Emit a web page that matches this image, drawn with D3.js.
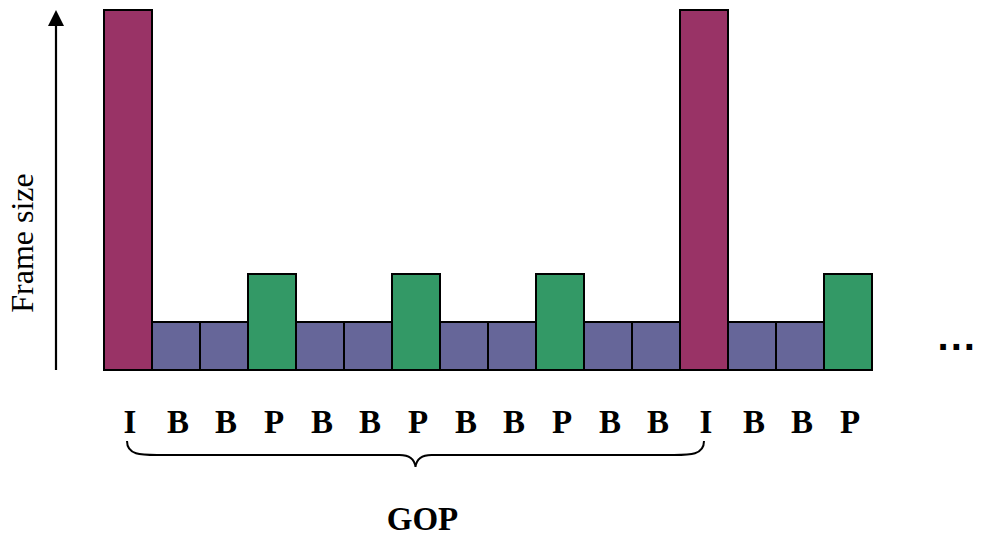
<!DOCTYPE html>
<html>
<head>
<meta charset="utf-8">
<script src="https://cdn.jsdelivr.net/npm/d3@7"></script>
<style>
html,body{margin:0;padding:0;background:#fff;}
svg{display:block;}
</style>
</head>
<body>
<svg id="chart" width="981" height="538"></svg>
<script>
const frameTypes = ["I","B","B","P","B","B","P","B","B","P","B","B","I","B","B","P"];
const frameSizes = [7.5,1,1,2,1,1,2,1,1,2,1,1,7.5,1,1,2];
const typeColors = {I:"#993366", B:"#666699", P:"#339966"};
const yLabel = "Frame size";
const gopLabel = "GOP";
const gopStart = 0, gopEnd = 12;

(function(){
const svg = d3.select("#chart");
const x = d3.scaleBand().domain(d3.range(frameTypes.length)).range([104, 872]).padding(0);
const y = d3.scaleLinear().domain([0, d3.max(frameSizes)]).range([370, 10]);

svg.append("line").attr("x1",56).attr("x2",56).attr("y1",370).attr("y2",24)
  .attr("stroke","#000").attr("stroke-width",2.2);
svg.append("path").attr("d","M56,10 L64,26 L48,26 Z").attr("fill","#000");

svg.append("text")
  .attr("transform","translate(33,243) rotate(-90)")
  .attr("text-anchor","middle")
  .attr("font-family","Liberation Serif, Times New Roman, serif")
  .attr("font-size",32)
  .text(yLabel);

svg.selectAll("rect.bar").data(frameSizes).join("rect")
  .attr("class","bar")
  .attr("x",(d,i)=>x(i))
  .attr("y",d=>y(d))
  .attr("width",x.bandwidth())
  .attr("height",d=>y(0)-y(d))
  .attr("fill",(d,i)=>typeColors[frameTypes[i]])
  .attr("stroke","#000").attr("stroke-width",2);

svg.selectAll("text.lab").data(frameTypes).join("text")
  .attr("class","lab")
  .attr("x",(d,i)=>x(i)+x.bandwidth()/2+2)
  .attr("y",433)
  .attr("text-anchor","middle")
  .attr("font-family","Liberation Serif, Times New Roman, serif")
  .attr("font-weight","bold")
  .attr("font-size",33)
  .text(d=>d);

const bx0 = x(gopStart)+x.bandwidth()/2 - 1;
const bx1 = x(gopEnd)+x.bandwidth()/2;
const bm = (bx0+bx1)/2;
const yTop = 441, yMid = 455, yTip = 467;
const p = d3.path();
p.moveTo(bx0, yTop);
p.bezierCurveTo(bx0, yMid, bx0+14, yMid, bx0+30, yMid);
p.lineTo(bm-16, yMid);
p.bezierCurveTo(bm-6, yMid, bm-1, yMid+4, bm, yTip);
p.moveTo(bx1, yTop);
p.bezierCurveTo(bx1, yMid, bx1-14, yMid, bx1-30, yMid);
p.lineTo(bm+16, yMid);
p.bezierCurveTo(bm+6, yMid, bm+1, yMid+4, bm, yTip);
svg.append("path").attr("d",p.toString()).attr("fill","none")
  .attr("stroke","#000").attr("stroke-width",2);

svg.append("text")
  .attr("x",bm+7).attr("y",530)
  .attr("text-anchor","middle")
  .attr("font-family","Liberation Serif, Times New Roman, serif")
  .attr("font-weight","bold")
  .attr("font-size",33)
  .text(gopLabel);

svg.append("text")
  .attr("x",937).attr("y",350)
  .attr("font-family","DejaVu Sans, sans-serif")
  .attr("font-weight","bold")
  .attr("font-size",32)
  .attr("letter-spacing",1)
  .text("...");
})();
</script>
</body>
</html>
